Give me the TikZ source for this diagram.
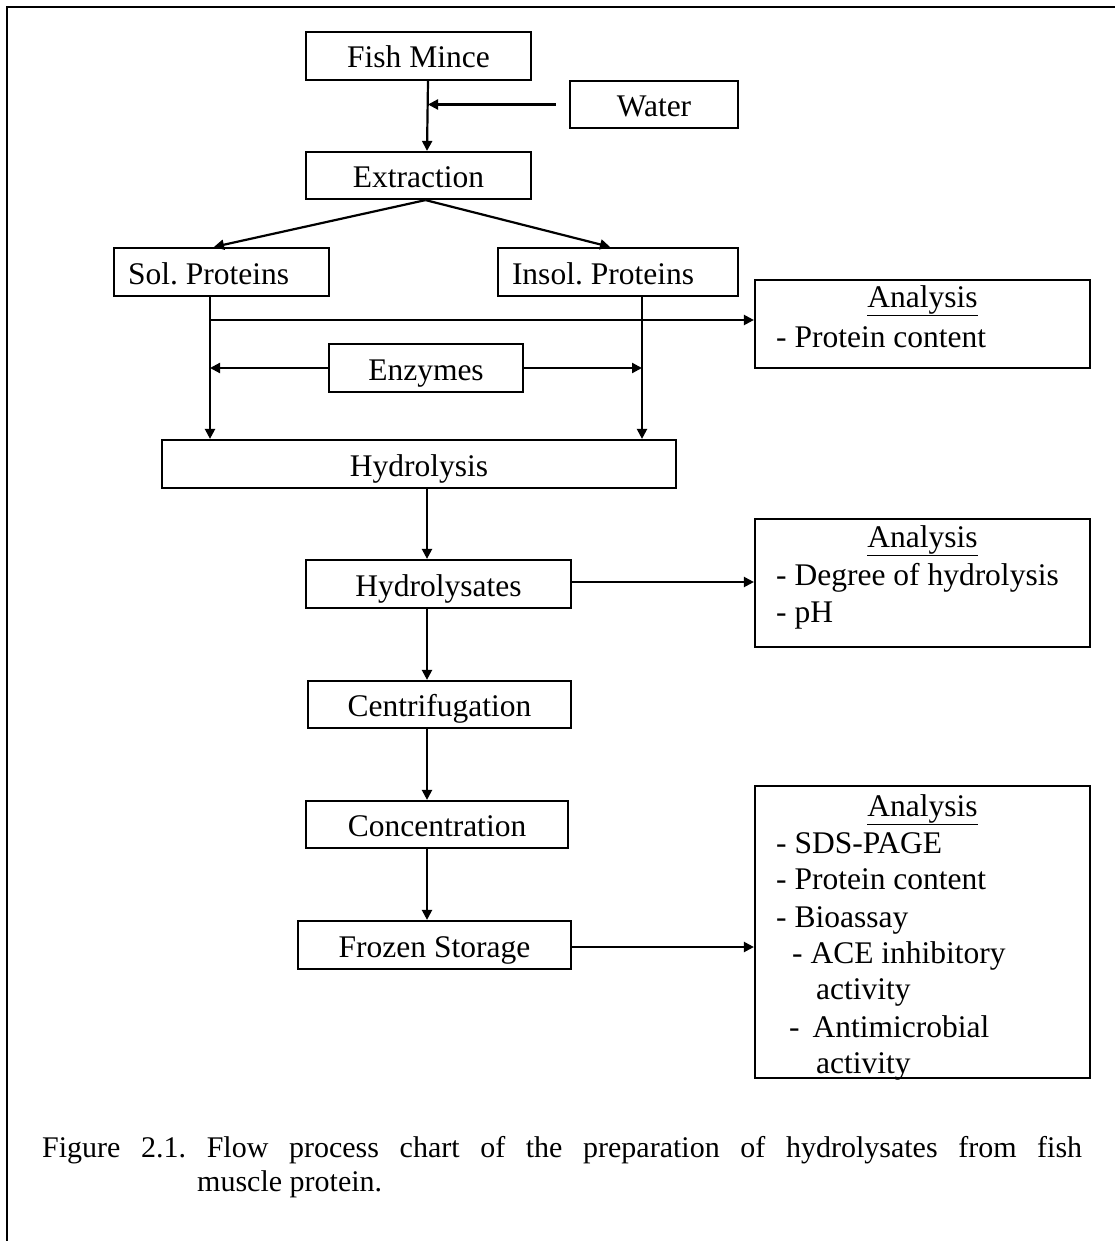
\documentclass[tikz,border=0pt]{standalone}
\usepackage{fontspec}
\setmainfont{Liberation Serif}
\usetikzlibrary{arrows.meta}
\begin{document}
\frenchspacing
\begin{tikzpicture}[x=1pt,y=-1pt,
  procbox/.style={draw, line width=2.2pt, inner sep=0pt, font=\fontsize{31.5}{36}\selectfont, text height=30pt, text depth=6pt},
  anbox/.style={draw, line width=2.2pt, inner sep=0pt, minimum width=335pt},
  lbl/.style={inner sep=0pt, font=\fontsize{31.5}{36}\selectfont},
  arr/.style={line width=2.2pt, -{Triangle[length=10pt,width=10pt]}},
  captext/.style={inner sep=0pt, font=\fontsize{30}{34}\selectfont}]
\useasboundingbox (0,0) rectangle (1115,1241);
\fill[white] (0,0) rectangle (1115,1241);
% frame
\draw[line width=2.3pt] (7,1241) -- (7,7) -- (1115,7);

% process boxes
\node[procbox, minimum width=225pt, minimum height=48pt] (fish) at (418.5,56) {Fish Mince};
\node[procbox, minimum width=168pt, minimum height=47pt] (water) at (654,104.5) {Water};
\node[procbox, minimum width=225pt, minimum height=47pt] (extr) at (418.5,175.5) {Extraction};
\node[procbox, minimum width=215pt, minimum height=48pt] (sol) at (221.5,272) {\makebox[187pt][l]{Sol. Proteins}};
\node[procbox, minimum width=240pt, minimum height=48pt] (insol) at (618,272) {\makebox[212pt][l]{Insol. Proteins}};
\node[procbox, minimum width=194pt, minimum height=48pt] (enz) at (426,368) {Enzymes};
\node[procbox, minimum width=514pt, minimum height=48pt] (hyd) at (419,464) {Hydrolysis};
\node[procbox, minimum width=265pt, minimum height=48pt] (hyds) at (438.5,584) {Hydrolysates};
\node[procbox, minimum width=263pt, minimum height=47pt] (cent) at (439.5,704.5) {Centrifugation};
\node[procbox, minimum width=262pt, minimum height=47pt] (conc) at (437,824.5) {Concentration};
\node[procbox, minimum width=273pt, minimum height=48pt] (froz) at (434.5,945) {Frozen Storage};

% analysis boxes
\node[anbox, minimum height=88pt] (an1) at (922.5,324) {};
\node[anbox, minimum height=128pt] (an2) at (922.5,583) {};
\node[anbox, minimum height=292pt] (an3) at (922.5,932) {};

\node[lbl, anchor=base] (a1h) at (922.5,307) {\underline{Analysis}};
\node[lbl, anchor=base west] (a1a) at (776,347) {- Protein content};

\node[lbl, anchor=base] (a2h) at (922.5,547) {\underline{Analysis}};
\node[lbl, anchor=base west] (a2a) at (776,585) {- Degree of hydrolysis};
\node[lbl, anchor=base west] (a2b) at (776,622) {- pH};

\node[lbl, anchor=base] (a3h) at (922.5,816) {\underline{Analysis}};
\node[lbl, anchor=base west] (a3a) at (776,853) {- SDS-PAGE};
\node[lbl, anchor=base west] (a3b) at (776,889) {- Protein content};
\node[lbl, anchor=base west] (a3c) at (776,927) {- Bioassay};
\node[lbl, anchor=base west] (a3d) at (792,963) {- ACE inhibitory};
\node[lbl, anchor=base west] (a3e) at (816,999) {activity};
\node[lbl, anchor=base west] (a3f) at (789,1037) {-\hspace{13pt}Antimicrobial};
\node[lbl, anchor=base west] (a3g) at (816,1073) {activity};

% helper coordinates
\coordinate (fx) at (428,0);
\coordinate (ex) at (427,0);
\coordinate (mx) at (427,0);
\coordinate (solx) at (210,0);
\coordinate (insx) at (642,0);
\coordinate (y320) at (0,320);
\coordinate (j1) at (solx |- y320);

% connectors
\draw[arr] (fish.south -| fx) -- (extr.north -| ex);
\draw[arr] ([xshift=-13pt]water.west) -- (water.west -| fx);
\draw[arr] ([xshift=7pt]extr.south) -- ([xshift=-7.5pt]sol.north);
\draw[arr] ([xshift=7pt]extr.south) -- ([xshift=-8pt]insol.north);
\draw[arr] (sol.south -| solx) -- (hyd.north -| solx);
\draw[arr] (insol.south -| insx) -- (hyd.north -| insx);
\draw[arr] (j1) -- (j1 -| an1.west);
\draw[arr] (enz.west) -- (enz.west -| solx);
\draw[arr] (enz.east) -- (enz.east -| insx);
\draw[arr] (hyd.south -| mx) -- (hyds.north -| mx);
\draw[arr] ([yshift=2pt]hyds.east) -- ([yshift=2pt]hyds.east -| an2.west);
\draw[arr] (hyds.south -| mx) -- (cent.north -| mx);
\draw[arr] (cent.south -| mx) -- (conc.north -| mx);
\draw[arr] (conc.south -| mx) -- (froz.north -| mx);
\draw[arr] ([yshift=-2pt]froz.east) -- ([yshift=-2pt]froz.east -| an3.west);

% caption
\node[captext, anchor=base west] (cap1) at (42,1157) {\makebox[1040pt][s]{Figure 2.1. Flow process chart of the preparation of hydrolysates from fish}};
\node[captext, anchor=base west] (cap2) at (197,1191) {muscle protein.};
\end{tikzpicture}
\end{document}
